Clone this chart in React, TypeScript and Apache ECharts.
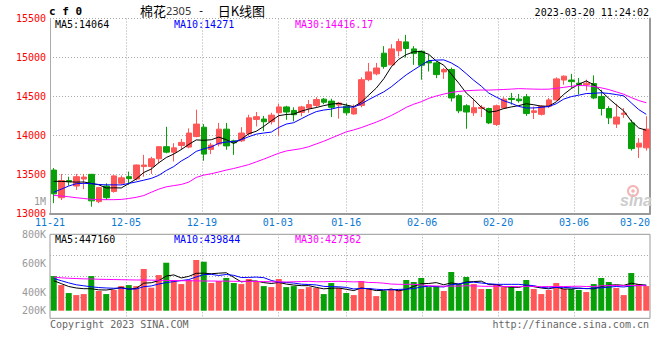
import React, { useEffect, useRef } from 'react';
import * as echarts from 'echarts';

const dates = [
  '11-21','11-22','11-23','11-24','11-25','11-28','11-29','11-30',
  '12-01','12-02','12-05','12-06','12-07','12-08','12-09','12-12','12-13','12-14','12-15','12-16',
  '12-19','12-20','12-21','12-22','12-23','12-26','12-27','12-28','12-29','12-30',
  '01-03','01-04','01-05','01-06','01-09','01-10','01-11','01-12','01-13','01-16',
  '01-17','01-18','01-19','01-20','01-30','01-31',
  '02-01','02-02','02-03','02-06','02-07','02-08','02-09','02-10','02-13','02-14','02-15','02-16','02-17',
  '02-20','02-21','02-22','02-23','02-24','02-27','02-28',
  '03-01','03-02','03-03','03-06','03-07','03-08','03-09','03-10','03-13','03-14','03-15','03-16','03-17','03-20'
];

const opens = [
  13555,13200,13420,13350,13440,13500,13150,13350,13280,13385,
  13470,13440,13600,13600,13700,13855,13785,13870,13850,13985,
  14105,13820,13890,14080,13930,13930,14020,14205,14210,14175,
  14290,14365,14320,14295,14350,14385,14465,14440,14390,14375,
  14275,14385,14715,14790,15055,14905,15085,15200,15110,15080,
  14950,14930,14815,14845,14510,14380,14290,14345,14345,14140,
  14350,14475,14465,14495,14295,14270,14375,14455,14710,14710,
  14670,14650,14665,14500,14345,14145,14270,14160,13850,13840
];
const closes = [
  13250,13420,13405,13470,13465,13160,13330,13200,13480,13455,
  13445,13620,13620,13700,13855,13785,13840,13910,14030,14145,
  13760,13875,14080,13865,13905,14030,14225,14240,14175,14260,
  14365,14300,14265,14365,14395,14460,14425,14360,14415,14290,
  14350,14715,14815,14865,14885,15110,15205,15115,15050,14900,
  14930,14780,14845,14480,14315,14300,14355,14360,14160,14380,
  14465,14460,14445,14280,14315,14375,14455,14725,14760,14690,
  14650,14670,14480,14345,14225,14235,14285,13830,13900,14080
];
const highs = [
  13580,13505,13470,13505,13505,13505,13340,13385,13490,13485,
  13535,13625,13750,13725,13860,14110,13900,13955,14090,14330,
  14145,13905,14160,14160,13945,14105,14265,14300,14250,14290,
  14405,14380,14360,14380,14455,14490,14480,14470,14430,14410,
  14395,14745,14930,14930,15145,15170,15240,15290,15145,15090,
  15035,14950,14865,14870,14530,14400,14470,14390,14355,14395,
  14490,14545,14530,14530,14370,14390,14480,14745,14770,14790,
  14735,14715,14770,14585,14375,14405,14350,14200,13965,14245
];
const lows = [
  13130,13170,13355,13300,13310,13085,13130,13170,13265,13365,
  13365,13420,13470,13505,13640,13770,13665,13815,13835,13975,
  13675,13760,13860,13815,13750,13915,14000,14115,14055,14140,
  13990,14200,14180,14245,14290,14360,14400,14235,14215,14255,
  14265,14360,14695,14770,14855,14900,15015,15000,14905,14715,
  14820,14735,14725,14435,14285,14085,14250,14235,14145,14120,
  14345,14395,14420,14250,14210,14255,14350,14445,14650,14610,
  14525,14575,14465,14255,14145,14095,14225,13805,13710,13805
];

const ma5 = [
  13410,13410,13405,13400,13402,13384,13366,13325,13327,13325,
  13382,13440,13524,13568,13648,13716,13760,13818,13884,13942,
  13937,13944,13978,13945,13897,13951,14021,14053,14115,14186,
  14253,14268,14273,14311,14338,14357,14382,14401,14411,14390,
  14368,14426,14517,14607,14726,14878,14976,15036,15073,15076,
  15040,14955,14901,14787,14670,14544,14459,14362,14298,14311,
  14344,14365,14382,14406,14393,14375,14374,14430,14526,14601,
  14656,14699,14650,14567,14474,14391,14314,14184,14095,14066
];
const ma10 = [
  13270,13310,13350,13380,13385,13380,13370,13365,13365,13364,
  13383,13403,13425,13448,13487,13549,13600,13671,13726,13795,
  13827,13852,13898,13915,13920,13944,13983,14016,14030,14042,
  14102,14145,14163,14213,14262,14305,14325,14337,14361,14364,
  14363,14404,14459,14509,14558,14623,14701,14777,14840,14901,
  14959,14966,14969,14930,14873,14792,14707,14632,14543,14491,
  14444,14412,14372,14352,14352,14360,14370,14406,14466,14497,
  14516,14537,14540,14547,14538,14524,14507,14417,14331,14270
];
const ma30 = [
  13230,13222,13212,13200,13190,13180,13175,13175,13175,13178,
  13190,13205,13228,13270,13310,13340,13355,13370,13400,13460,
  13490,13508,13530,13555,13575,13600,13625,13660,13695,13733,
  13771,13800,13815,13830,13855,13890,13925,13965,14005,14045,
  14070,14100,14135,14170,14210,14255,14305,14360,14400,14432,
  14475,14505,14530,14551,14564,14573,14578,14582,14581,14585,
  14589,14594,14600,14597,14594,14592,14593,14605,14616,14630,
  14640,14638,14627,14610,14588,14558,14528,14485,14447,14419
];

const volumes = [
  512000,450000,395000,381000,388000,512000,409000,388000,416000,443000,
  450000,443000,561000,432000,519000,604000,485000,457000,485000,623000,
  611000,464000,478000,499000,464000,457000,492000,478000,443000,436000,
  492000,436000,443000,423000,436000,430000,388000,464000,430000,395000,
  381000,478000,430000,374000,409000,423000,416000,485000,471000,499000,
  436000,443000,409000,540000,457000,506000,457000,423000,423000,457000,
  436000,443000,409000,485000,423000,388000,416000,464000,423000,423000,
  416000,402000,457000,499000,471000,430000,381000,533000,457000,443000
];
const volMa5 = [
  480000,460000,440000,430000,425000,425000,417000,416000,423000,434000,
  421000,428000,463000,466000,481000,512000,520000,499000,510000,531000,
  532000,528000,532000,535000,503000,472000,478000,478000,467000,461000,
  468000,457000,450000,446000,446000,434000,424000,428000,430000,421000,
  412000,430000,423000,412000,414000,423000,410000,421000,441000,459000,
  461000,467000,452000,465000,457000,471000,474000,477000,453000,453000,
  439000,436000,434000,446000,439000,430000,424000,435000,423000,423000,
  428000,426000,424000,439000,449000,452000,448000,463000,454000,449000
];
const volMa10 = [
  495000,480000,465000,452000,445000,438000,433000,430000,428000,429000,
  423000,423000,439000,444000,457000,467000,474000,481000,488000,506000,
  522000,524000,516000,523000,517000,502000,503000,505000,501000,482000,
  470000,468000,464000,456000,454000,451000,441000,439000,438000,434000,
  423000,427000,426000,421000,418000,417000,420000,422000,426000,437000,
  442000,439000,437000,453000,458000,466000,470000,464000,459000,455000,
  455000,455000,455000,450000,446000,434000,430000,434000,434000,431000,
  429000,425000,430000,431000,436000,440000,437000,444000,447000,449000
];
const volMa30 = [
  505000,500000,497000,495000,493000,492000,490000,489000,488000,487000,
  486000,485000,485000,484000,483000,482000,481000,480000,480000,479000,
  478000,478000,477000,477000,476000,476000,475000,475000,474000,473000,
  472000,471000,473000,474000,476000,473000,473000,475000,476000,474000,
  472000,473000,468000,467000,463000,457000,455000,455000,455000,451000,
  445000,444000,442000,443000,443000,445000,444000,442000,441000,442000,
  440000,440000,439000,441000,441000,439000,440000,440000,440000,441000,
  442000,440000,440000,445000,447000,447000,446000,447000,447000,445000
];

const xTickLabels = ['11-21', '12-05', '12-19', '01-03', '01-16', '02-06', '02-20', '03-06', '03-20'];
const priceTicks = [13000, 13500, 14000, 14500, 15000, 15500];
const volTickLabels = ['800K', '600K', '400K', '200K'];
const volTickValues = [800000, 600000, 400000];

const maTexts = { ma5: 'MA5:14064', ma10: 'MA10:14271', ma30: 'MA30:14416.17' };
const volMaTexts = { ma5: 'MA5:447160', ma10: 'MA10:439844', ma30: 'MA30:427362' };

const RED = '#ff5757';
const GREEN = '#08a008';
const MONO = '"DejaVu Sans Mono", monospace';
const DOT = [1, 2];

export default function App() {
  const ref = useRef<HTMLDivElement>(null);
  useEffect(() => {
    const chart = echarts.init(ref.current!, null, { renderer: 'svg', width: 660, height: 360 });
    const labelIdx = xTickLabels.map((d) => dates.indexOf(d));
    const splitIdx = labelIdx.slice(1, -1);
    const last = dates.length - 1;
    const candleData = opens.map((o, i) => [o, closes[i], lows[i], highs[i]]);
    const volData = volumes.map((v, i) => ({
      value: v,
      itemStyle: { color: closes[i] >= opens[i] ? RED : GREEN },
    }));
    const lineSeries = (name: string, data: number[], color: string, xi: number, yi: number) => ({
      name,
      type: 'line',
      data,
      xAxisIndex: xi,
      yAxisIndex: yi,
      symbol: 'none',
      silent: true,
      lineStyle: { color, width: 1 },
      z: 3,
    });
    const txt = (text: string, x: number, y: number, fill: string, align = 'left', extra: any = {}) => ({
      type: 'text',
      x,
      y,
      silent: true,
      z: 10,
      style: { text, fill, align, verticalAlign: 'middle', fontFamily: MONO, fontSize: 10, ...extra },
    });

    const option: any = {
      animation: false,
      backgroundColor: '#ffffff',
      grid: [
        { left: 50, top: 18.5, width: 600, height: 194.8 },
        { left: 50, top: 234.3, width: 600, height: 76.4 },
        { left: 50, top: 234.3, width: 600, height: 84, show: true, borderColor: '#999', borderWidth: 1 },
      ],
      xAxis: [
        { type: 'category', gridIndex: 0, data: dates, boundaryGap: true, show: false },
        {
          type: 'value', gridIndex: 0, min: 0, max: last, position: 'bottom',
          axisLine: { show: true, onZero: false, lineStyle: { color: '#999', width: 2 } },
          axisTick: { show: false, customValues: splitIdx },
          axisLabel: {
            customValues: labelIdx,
            formatter: (v: number) => dates[Math.round(v)],
            color: '#0a78d2', fontFamily: MONO, fontSize: 10, margin: 4,
            alignMinLabel: 'center', alignMaxLabel: 'right',
          },
          splitLine: { show: true, lineStyle: { type: DOT, color: '#aaa', width: 1 } },
        },
        { type: 'category', gridIndex: 1, data: dates, boundaryGap: true, show: false },
        {
          type: 'value', gridIndex: 2, min: 0, max: last,
          axisLine: { show: false }, axisLabel: { show: false },
          axisTick: { show: false, customValues: splitIdx },
          splitLine: { show: true, lineStyle: { type: DOT, color: '#aaa', width: 1 } },
        },
      ],
      yAxis: [
        {
          type: 'value', gridIndex: 0, position: 'left',
          min: priceTicks[0], max: priceTicks[priceTicks.length - 1], interval: 500,
          axisLine: { show: true, onZero: false, lineStyle: { color: '#aaa', width: 1 } },
          axisTick: { show: false },
          axisLabel: {
            color: '#ff0000', fontFamily: MONO, fontSize: 10, margin: 4,
            formatter: (v: number) => String(v),
          },
          splitLine: { show: true, lineStyle: { type: DOT, color: '#aaa', width: 1 } },
        },
        {
          type: 'value', gridIndex: 0, position: 'right', min: 0, max: 1,
          axisLine: { show: true, onZero: false, lineStyle: { color: '#999', width: 2 } },
          axisTick: { show: false }, axisLabel: { show: false }, splitLine: { show: false },
        },
        {
          type: 'value', gridIndex: 1, position: 'left', min: 273300, max: 800000,
          axisLine: { show: false }, axisTick: { show: false }, splitLine: { show: false },
          axisLabel: {
            customValues: volTickValues,
            formatter: (v: number) => volTickLabels[volTickValues.indexOf(v)] ?? '',
            color: '#999', fontFamily: MONO, fontSize: 10, margin: 4,
          },
        },
        {
          type: 'value', gridIndex: 2, min: 0, max: 4, interval: 1,
          axisLine: { show: false }, axisTick: { show: false }, axisLabel: { show: false },
          splitLine: { show: true, lineStyle: { type: DOT, color: '#aaa', width: 1 } },
        },
      ],
      series: [
        {
          type: 'candlestick', xAxisIndex: 0, yAxisIndex: 0, data: candleData, barWidth: 6,
          itemStyle: { color: RED, color0: GREEN, borderColor: RED, borderColor0: GREEN, borderWidth: 1 },
          z: 2,
        },
        lineSeries('MA5', ma5, '#000000', 0, 0),
        lineSeries('MA10', ma10, '#0000ff', 0, 0),
        lineSeries('MA30', ma30, '#ff00ff', 0, 0),
        { type: 'bar', xAxisIndex: 2, yAxisIndex: 2, data: volData, barWidth: 6, z: 2 },
        lineSeries('VMA5', volMa5, '#000000', 2, 2),
        lineSeries('VMA10', volMa10, '#0000ff', 2, 2),
        lineSeries('VMA30', volMa30, '#ff00ff', 2, 2),
      ],
      graphic: [
        txt('c f 0', 49, 11.5, '#000', 'left', { fontWeight: 'bold', fontSize: 11 }),
        {
          type: 'text', x: 140, y: 10, silent: true, z: 10,
          style: {
            text: '{a|棉花}{b|2305}{m| -  }{a|日K线图}',
            align: 'left', verticalAlign: 'middle',
            rich: {
              a: { fontFamily: '"Noto Sans CJK SC"', fontSize: 13, fill: '#000' },
              b: { fontFamily: '"Noto Sans", sans-serif', fontSize: 11, fill: '#333' },
              m: { fontFamily: MONO, fontSize: 11, fill: '#000' },
            },
          },
        },
        txt('2023-03-20 11:24:02', 649, 12, '#000', 'right'),
        txt(maTexts.ma5, 55, 24, '#000'),
        txt(maTexts.ma10, 174, 24, '#0000ff'),
        txt(maTexts.ma30, 295, 24, '#ff00ff'),
        txt('1M', 46, 201, '#999', 'right'),
        txt(volTickLabels[3], 46, 310, '#999', 'right'),
        txt(volMaTexts.ma5, 55, 239, '#000'),
        txt(volMaTexts.ma10, 174, 239, '#0000ff'),
        txt(volMaTexts.ma30, 295, 239, '#ff00ff'),
        txt('Copyright 2023 SINA.COM', 50, 324, '#666'),
        txt('http://finance.sina.com.cn', 649, 324, '#666', 'right'),
        {
          type: 'circle', silent: true, z: 1,
          shape: { cx: 633, cy: 191, r: 5 },
          style: { fill: 'none', stroke: '#f4b4b4', lineWidth: 2 },
        },
        {
          type: 'circle', silent: true, z: 1,
          shape: { cx: 633, cy: 191, r: 1.8 },
          style: { fill: '#f4b4b4' },
        },
        {
          type: 'text', x: 636, y: 200, silent: true, z: 1,
          style: {
            text: 'sina', fill: '#cccccc', align: 'center', verticalAlign: 'middle',
            fontFamily: '"Liberation Sans", Arial, sans-serif', fontSize: 16,
            fontWeight: 'bold', fontStyle: 'italic',
          },
        },
      ],
    };
    chart.setOption(option);
    return () => chart.dispose();
  }, []);
  return (
    <div
      ref={ref}
      style={{ position: 'fixed', left: 0, top: 0, width: 660, height: 360, background: '#fff' }}
    />
  );
}
